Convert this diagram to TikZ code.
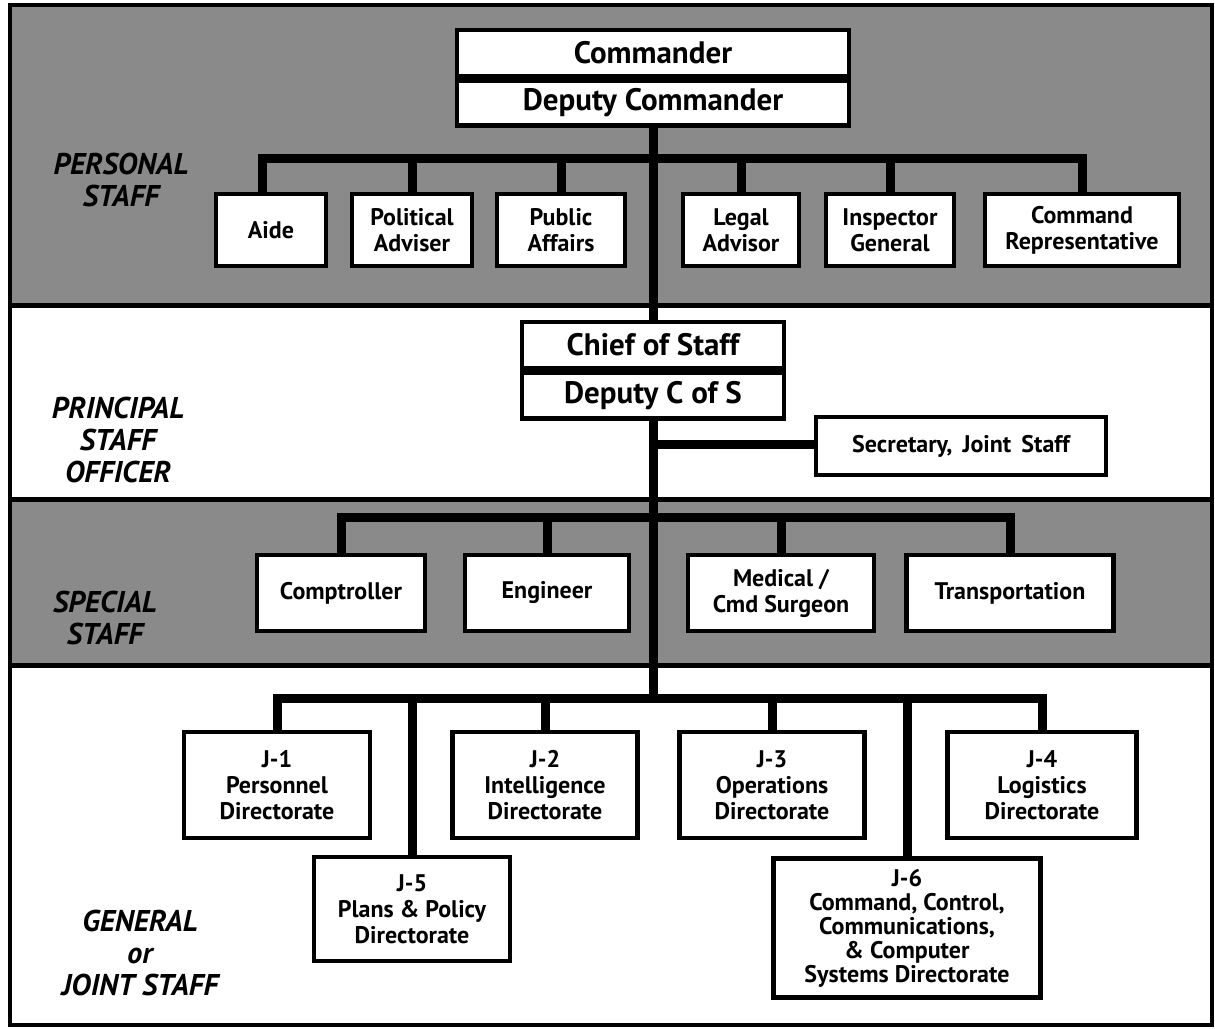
\documentclass[tikz,border=0pt]{standalone}
\usepackage{fontspec}
\setmainfont{PT Sans}
\definecolor{bandgray}{RGB}{138,138,138}
\begin{document}
\begin{tikzpicture}[x=1pt,y=-1pt,
  box/.style={draw=black, line width=4.5pt, fill=white, inner sep=0pt, align=center,
    font=\fontsize{24}{26}\selectfont\bfseries},
  bigbox/.style={box, font=\fontsize{31}{31}\selectfont\bfseries},
  conn/.style={line width=9pt, line join=miter, line cap=butt},
  bandline/.style={line width=5pt},
  lbl/.style={align=center, inner sep=0pt, font=\fontsize{30}{32}\selectfont\bfseries\itshape}]
\useasboundingbox (0,0) rectangle (1215,1028);
% bands
\fill[bandgray] (10,5) rectangle (1212,305);
\fill[bandgray] (10,499) rectangle (1212,665);
\draw[bandline] (10,305) -- (1212,305);
\draw[bandline] (10,499) -- (1212,499);
\draw[bandline] (10,665) -- (1212,665);
\draw[line width=4.5pt] (10,5) rectangle (1212,1025);
% side labels
\node[lbl] (lpers) at (121,180) {PERSONAL\\STAFF};
\node[lbl] (lprin) at (118,440) {PRINCIPAL\\STAFF\\OFFICER};
\node[lbl] (lspec) at (105,618) {SPECIAL\\STAFF};
\node[lbl] (lgen) at (140,953) {GENERAL\\or\\JOINT STAFF};
% commander
\node[bigbox, minimum width=392, minimum height=46] (cmdA) at (653,53) {Commander};
\node[bigbox, minimum width=392, minimum height=45, anchor=north] (cmdB) at (cmdA.south) {Deputy Commander};
% personal staff
\node[box, minimum width=110, minimum height=72] (aide) at (271,230) {Aide};
\node[box, minimum width=120, minimum height=72] (poladv) at (412,230) {Political\\Adviser};
\node[box, minimum width=128, minimum height=72] (pubaff) at (561,230) {Public\\Affairs};
\node[box, minimum width=116, minimum height=72] (legal) at (741,230) {Legal\\Advisor};
\node[box, minimum width=128, minimum height=72] (insp) at (890,230) {Inspector\\General};
\node[box, minimum width=194, minimum height=72] (cmdrep) at (1082,230) {Command\\Representative};
% chief of staff
\node[bigbox, minimum width=262, minimum height=46] (chiefA) at (653,345) {Chief of Staff};
\node[bigbox, minimum width=262, minimum height=46, anchor=north] (chiefB) at (chiefA.south) {Deputy C of S};
\node[box, minimum width=290, minimum height=58] (secr) at (961,446) {Secretary,\, Joint\, Staff};
% special staff
\node[box, minimum width=168, minimum height=76] (compt) at (341,593) {Comptroller};
\node[box, minimum width=164, minimum height=76] (engr) at (547,593) {Engineer};
\node[box, minimum width=186, minimum height=76] (med) at (781,593) {Medical /\\Cmd Surgeon};
\node[box, minimum width=207, minimum height=76] (trans) at (1010,593) {Transportation};
% joint staff
\node[box, minimum width=186, minimum height=106] (j1) at (277,785) {J-1\\Personnel\\Directorate};
\node[box, minimum width=185, minimum height=106] (j2) at (545,785) {J-2\\Intelligence\\Directorate};
\node[box, minimum width=185, minimum height=106] (j3) at (772,785) {J-3\\Operations\\Directorate};
\node[box, minimum width=189, minimum height=106] (j4) at (1042,785) {J-4\\Logistics\\Directorate};
\node[box, minimum width=196, minimum height=104] (j5) at (412,909) {J-5\\Plans \& Policy\\Directorate};
\node[box, minimum width=267, minimum height=139, font=\fontsize{24}{24}\selectfont\bfseries] (j6) at (907,928) {J-6\\Command, Control,\\Communications,\\\& Computer\\Systems Directorate};
% bus coordinates
\coordinate (pbus) at (653,158);
\coordinate (sbus) at (653,517);
\coordinate (jbus) at (653,698);
\coordinate (secbr) at (653,444);
% connectors
\draw[conn] (cmdB.south) -- (chiefA.north);
\draw[conn] (chiefB.south) -- (jbus);
\draw[conn] ([xshift=-9pt]aide.north) |- (pbus) -| (cmdrep.north);
\draw[conn] (poladv.north) -- (poladv.north |- pbus);
\draw[conn] (pubaff.north) -- (pubaff.north |- pbus);
\draw[conn] (legal.north) -- (legal.north |- pbus);
\draw[conn] (insp.north) -- (insp.north |- pbus);
\draw[conn] (secbr) -- (secr.west |- secbr);
\draw[conn] (compt.north) |- (sbus) -| (trans.north);
\draw[conn] (engr.north) -- (engr.north |- sbus);
\draw[conn] (med.north) -- (med.north |- sbus);
\draw[conn] (j1.north) |- (jbus) -| (j4.north);
\draw[conn] (j2.north) -- (j2.north |- jbus);
\draw[conn] (j3.north) -- (j3.north |- jbus);
\draw[conn] (j5.north) -- (j5.north |- jbus);
\draw[conn] (j6.north) -- (j6.north |- jbus);
\end{tikzpicture}
\end{document}
